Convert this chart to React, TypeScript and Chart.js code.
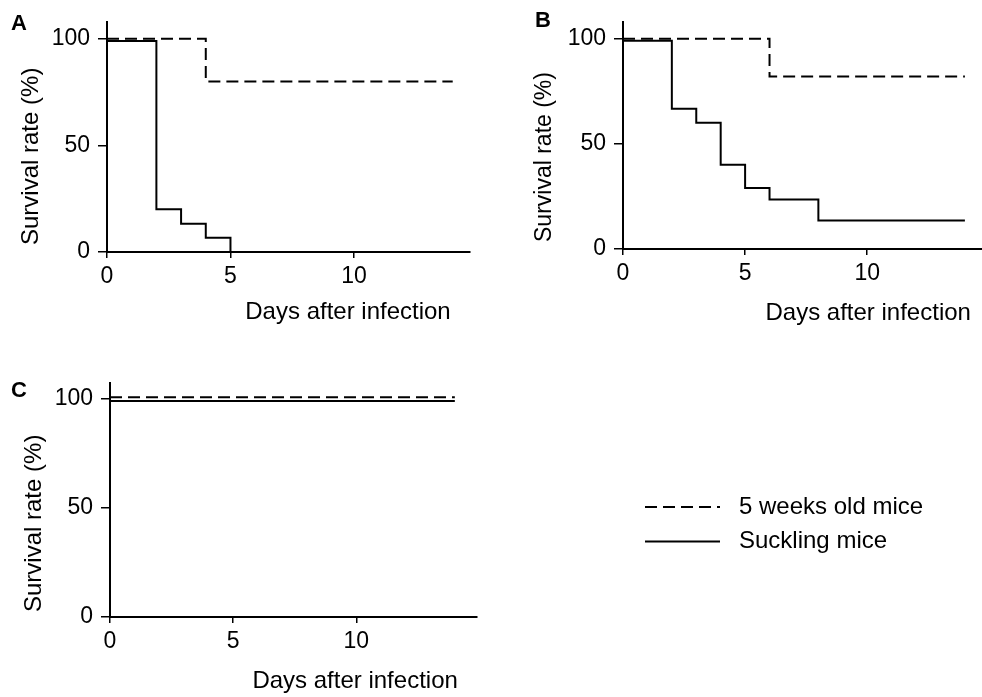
import React, { useEffect, useRef } from 'react';
import { Chart, registerables } from 'chart.js';

Chart.register(...registerables);

const FONT = 'Arial, "Liberation Sans", Helvetica, sans-serif';

// ---- text ----
const SERIES_LABELS = ['5 weeks old mice', 'Suckling mice'];
const X_TITLE = 'Days after infection';
const Y_TITLE = 'Survival rate (%)';
const X_TICKS = [0, 5, 10];
const Y_TICKS = [0, 50, 100];

// ---- data: panel A ----
const A_DAYS_5WK = [0, 4, 14];
const A_SURV_5WK = [100, 80, 80];
const A_DAYS_SUCK = [0, 2, 3, 4, 5];
const A_SURV_SUCK = [99, 20, 13.3, 6.7, 0];

// ---- data: panel B ----
const B_DAYS_5WK = [0, 6, 14];
const B_SURV_5WK = [100, 82, 82];
const B_DAYS_SUCK = [0, 2, 3, 4, 5, 6, 8, 14];
const B_SURV_SUCK = [99, 66.7, 60, 40, 29, 23.5, 13.5, 13.5];

// ---- data: panel C ----
const C_DAYS_5WK = [0, 14];
const C_SURV_5WK = [100.5, 100.5];
const C_DAYS_SUCK = [0, 14];
const C_SURV_SUCK = [98.8, 98.8];

type Panel = {
  letter: string;
  left: number;
  top: number;
  width: number;
  height: number;
  pad: { left: number; top: number; right: number; bottom: number };
  yWidth: number;
  xHeight: number;
  xMax: number;
  yMax: number;
  days5: number[];
  surv5: number[];
  daysS: number[];
  survS: number[];
  letterX: number;
  letterY: number;
  xTitleDx: number;
  xTitleDy: number;
  yTitleDx: number;
  yTitleDy: number;
  yTitleSize: number;
  legend?: { x0: number; x1: number; tx: number; y: number; gap: number };
};

const PANELS: Panel[] = [
  {
    letter: 'A', left: 0, top: 0, width: 490, height: 340,
    pad: { left: 0, top: 15, right: 20, bottom: 0 }, yWidth: 107, xHeight: 88,
    xMax: 14.7, yMax: 108,
    days5: A_DAYS_5WK, surv5: A_SURV_5WK, daysS: A_DAYS_SUCK, survS: A_SURV_SUCK,
    letterX: 11, letterY: 30, xTitleDx: -2, xTitleDy: 67, yTitleDx: 76, yTitleDy: 7, yTitleSize: 24,
  },
  {
    letter: 'B', left: 500, top: 0, width: 482, height: 340,
    pad: { left: 0, top: 14, right: 0, bottom: 0 }, yWidth: 123, xHeight: 91,
    xMax: 14.7, yMax: 108,
    days5: B_DAYS_5WK, surv5: B_SURV_5WK, daysS: B_DAYS_SUCK, survS: B_SURV_SUCK,
    letterX: 35, letterY: 27, xTitleDx: 6, xTitleDy: 71, yTitleDx: 78, yTitleDy: 7, yTitleSize: 23,
  },
  {
    letter: 'C', left: 0, top: 360, width: 982, height: 337,
    pad: { left: 0, top: 23, right: 505, bottom: 0 }, yWidth: 110, xHeight: 80,
    xMax: 14.9, yMax: 107,
    days5: C_DAYS_5WK, surv5: C_SURV_5WK, daysS: C_DAYS_SUCK, survS: C_SURV_SUCK,
    letterX: 11, letterY: 37, xTitleDx: 3, xTitleDy: 71, yTitleDx: 76, yTitleDy: 5, yTitleSize: 24,
    legend: { x0: 645, x1: 720, tx: 739, y: 147, gap: 34.5 },
  },
];

const annotPlugin = {
  id: 'annot',
  afterDraw(chart: any, _args: any, opts: any) {
    const p: Panel = opts.panel;
    if (!p) return;
    const ctx = chart.ctx as CanvasRenderingContext2D;
    const ca = chart.chartArea;
    const xs = chart.scales.x;
    ctx.save();
    ctx.fillStyle = '#000';

    // panel letter
    ctx.font = `bold 22px ${FONT}`;
    ctx.textAlign = 'left';
    ctx.textBaseline = 'alphabetic';
    ctx.fillText(p.letter, p.letterX, p.letterY);

    // x axis title
    ctx.font = `24px ${FONT}`;
    ctx.textAlign = 'right';
    ctx.fillText(X_TITLE, xs.getPixelForValue(14) + p.xTitleDx, ca.bottom + p.xTitleDy);

    // y axis title
    ctx.save();
    ctx.font = `${p.yTitleSize}px ${FONT}`;
    ctx.translate(ca.left - p.yTitleDx, ca.bottom - p.yTitleDy);
    ctx.rotate(-Math.PI / 2);
    ctx.textAlign = 'left';
    ctx.textBaseline = 'middle';
    ctx.fillText(Y_TITLE, 0, 0);
    ctx.restore();

    // legend
    if (p.legend) {
      const L = p.legend;
      chart.data.datasets.forEach((ds: any, i: number) => {
        const y = L.y + i * L.gap;
        ctx.save();
        ctx.strokeStyle = ds.borderColor;
        ctx.lineWidth = ds.borderWidth;
        ctx.setLineDash(ds.borderDash || []);
        ctx.beginPath();
        ctx.moveTo(L.x0, y);
        ctx.lineTo(L.x1, y);
        ctx.stroke();
        ctx.restore();
        ctx.font = `24px ${FONT}`;
        ctx.textAlign = 'left';
        ctx.textBaseline = 'middle';
        ctx.fillText(ds.label, L.tx, y);
      });
    }
    ctx.restore();
  },
};

function toPoints(xs: number[], ys: number[]) {
  return xs.map((x, i) => ({ x, y: ys[i] }));
}

function PanelChart({ p }: { p: Panel }) {
  const ref = useRef<HTMLCanvasElement | null>(null);
  useEffect(() => {
    if (!ref.current) return;
    const chart = new Chart(ref.current, {
      type: 'line',
      data: {
        datasets: [
          {
            label: SERIES_LABELS[0],
            data: toPoints(p.days5, p.surv5),
            borderColor: '#000',
            borderWidth: 2,
            borderDash: [12, 6],
            stepped: true,
            pointRadius: 0,
            fill: false,
          },
          {
            label: SERIES_LABELS[1],
            data: toPoints(p.daysS, p.survS),
            borderColor: '#000',
            borderWidth: 2,
            stepped: true,
            pointRadius: 0,
            fill: false,
          },
        ],
      },
      options: {
        responsive: false,
        animation: false,
        devicePixelRatio: 1,
        layout: { padding: p.pad },
        plugins: {
          legend: { display: false },
          tooltip: { enabled: false },
          annot: { panel: p },
        } as any,
        scales: {
          x: {
            type: 'linear',
            min: 0,
            max: p.xMax,
            afterFit: (s: any) => { s.height = p.xHeight; },
            afterBuildTicks: (s: any) => { s.ticks = X_TICKS.map((v) => ({ value: v })); },
            ticks: { color: '#000', font: { family: FONT, size: 23 }, padding: 5, maxRotation: 0, autoSkip: false },
            grid: { display: true, drawOnChartArea: false, drawTicks: true, tickLength: 6, color: '#000', lineWidth: 1.5 },
            border: { display: true, color: '#000', width: 2 },
          },
          y: {
            type: 'linear',
            min: 0,
            max: p.yMax,
            afterFit: (s: any) => { s.width = p.yWidth; },
            afterBuildTicks: (s: any) => { s.ticks = Y_TICKS.map((v) => ({ value: v })); },
            ticks: { color: '#000', font: { family: FONT, size: 23 }, padding: 8, autoSkip: false },
            grid: { display: true, drawOnChartArea: false, drawTicks: true, tickLength: 9, color: '#000', lineWidth: 1.5 },
            border: { display: true, color: '#000', width: 2 },
          },
        },
      } as any,
      plugins: [annotPlugin as any],
    });
    return () => chart.destroy();
  }, [p]);
  return (
    <canvas
      ref={ref}
      width={p.width}
      height={p.height}
      style={{ position: 'absolute', left: p.left, top: p.top, width: p.width, height: p.height }}
    />
  );
}

export default function App() {
  return (
    <div style={{ position: 'absolute', left: 0, top: 0, width: 982, height: 697, background: '#fff', overflow: 'hidden' }}>
      {PANELS.map((p) => (
        <PanelChart key={p.letter} p={p} />
      ))}
    </div>
  );
}
